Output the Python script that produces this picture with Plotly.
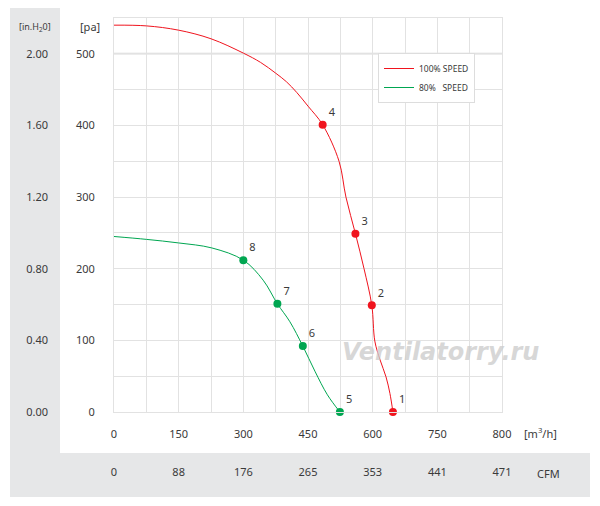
import plotly.graph_objects as go

# ---- data ----
red_curve_x = [0, 75, 150, 225, 300, 340, 375, 400, 424, 450, 484, 522, 538, 560, 580, 598, 605, 617, 631, 640, 647]
red_curve_y = [540, 539, 533, 521, 501, 488, 473, 461, 446, 427, 401, 350, 300, 249, 200, 149, 99, 73, 49, 26, 0]
red_pts_x = [647, 598, 560, 484]
red_pts_y = [0, 149, 249, 401]
red_labels = ["1", "2", "3", "4"]

green_curve_x = [0, 75, 150, 227, 300, 346, 379, 408, 438, 466, 495, 524]
green_curve_y = [245, 241, 236, 229, 212, 184, 151, 126, 92, 57, 24, 0]
green_pts_x = [524, 438, 379, 300]
green_pts_y = [0, 92, 151, 212]
green_labels = ["5", "6", "7", "8"]

x_ticks = [0, 75, 150, 225, 300, 375, 450, 525, 600, 675, 750, 825, 900]
x_labels = ["0", "", "150", "", "300", "", "450", "", "600", "", "750", "", "800"]
cfm_labels = ["0", "", "88", "", "176", "", "265", "", "353", "", "441", "", "471"]
y_ticks = [0, 50, 100, 150, 200, 250, 300, 350, 400, 450, 500, 550]
pa_labels = ["0", "", "100", "", "200", "", "300", "", "400", "", "500", ""]
inh2o_labels = ["0.00", "", "0.40", "", "0.80", "", "1.20", "", "1.60", "", "2.00", ""]

RED = "#f0141e"
GREEN = "#00a651"
GRID = "#e2e2e2"
TXT = "#3a3a3a"
BAND = "#e6e7e8"
FONT = "Noto Sans"

OFF = 8  # page body margin
W, H = 600 - OFF, 506 - OFF
L, R, T, B = 0, 98, 10, 0
PW, PH = W - L - R, H - T - B


def px(x):
    return (x - OFF - L) / PW


def py(y):
    return (H - B - (y - OFF)) / PH


fig = go.Figure()

fig.add_trace(go.Scatter(x=red_curve_x, y=red_curve_y, mode="lines",
                         line=dict(color=RED, width=1, shape="spline", smoothing=1.0),
                         name="100% SPEED"))
fig.add_trace(go.Scatter(x=green_curve_x, y=green_curve_y, mode="lines",
                         line=dict(color=GREEN, width=1, shape="spline", smoothing=1.0),
                         name="80%&nbsp;&nbsp; SPEED"))
fig.add_trace(go.Scatter(x=red_pts_x, y=red_pts_y, mode="markers+text", marker=dict(color=RED, size=8),
                         text=red_labels, textposition="top right", textfont=dict(size=11, color=TXT, family=FONT),
                         showlegend=False, cliponaxis=False))
fig.add_trace(go.Scatter(x=green_pts_x, y=green_pts_y, mode="markers+text", marker=dict(color=GREEN, size=8),
                         text=green_labels, textposition="top right", textfont=dict(size=11, color=TXT, family=FONT),
                         showlegend=False, cliponaxis=False))
# invisible trace to hold the secondary axes
fig.add_trace(go.Scatter(x=[0], y=[0], xaxis="x2", yaxis="y2", mode="markers",
                         marker=dict(opacity=0), showlegend=False, hoverinfo="skip"))

x_dom0 = px(114)
y_dom0 = py(412)

fig.update_layout(
    width=W, height=H,
    margin=dict(l=L, r=R, t=T, b=B, autoexpand=False),
    paper_bgcolor="white", plot_bgcolor="white",
    font=dict(family=FONT, size=11, color=TXT),
    xaxis=dict(domain=[x_dom0, 1], range=[0, 900], tickmode="array", tickvals=x_ticks, ticktext=x_labels,
               showgrid=True, gridcolor=GRID, gridwidth=1, ticks="", showline=True, linecolor=GRID, mirror=True,
               zeroline=False, ticklabelstandoff=12, tickfont=dict(size=11, color=TXT), automargin=False),
    xaxis2=dict(overlaying="x", anchor="free", position=py(458), side="bottom", range=[0, 900],
                tickmode="array", tickvals=x_ticks, ticktext=cfm_labels, showgrid=False, showline=False,
                zeroline=False, ticks="", ticklabelstandoff=6, tickfont=dict(size=11, color=TXT), automargin=False),
    yaxis=dict(domain=[y_dom0, 1], range=[0, 550], tickmode="array", tickvals=y_ticks, ticktext=pa_labels,
               showgrid=True, gridcolor=GRID, gridwidth=1, ticks="", showline=True, linecolor=GRID, mirror=True,
               zeroline=False, ticklabelstandoff=16, tickfont=dict(size=11, color=TXT), automargin=False),
    yaxis2=dict(overlaying="y", anchor="free", position=px(60), side="left", range=[0, 550],
                tickmode="array", tickvals=y_ticks, ticktext=inh2o_labels, showgrid=False, showline=False,
                zeroline=False, ticks="", ticklabelstandoff=12, tickfont=dict(size=11, color=TXT), automargin=False),
    legend=dict(x=px(378), y=py(53), xanchor="left", yanchor="top", bgcolor="white", bordercolor="#dddddd",
                borderwidth=1, font=dict(size=8.5, color=TXT), tracegroupgap=0, itemwidth=30),
    shapes=[
        dict(type="rect", xref="paper", yref="paper", x0=px(10), x1=px(60), y0=py(497), y1=py(8),
             fillcolor=BAND, line=dict(width=0), layer="below"),
        dict(type="rect", xref="paper", yref="paper", x0=px(10), x1=px(590), y0=py(497), y1=py(453),
             fillcolor=BAND, line=dict(width=0), layer="below"),
        dict(type="line", xref="x", yref="y", x0=0, x1=900, y0=500, y1=500,
             line=dict(color="#ececec", width=2.5), layer="below"),
    ],
    annotations=[
        dict(text="[pa]", xref="paper", yref="paper", x=px(90), y=py(27), xanchor="center", yanchor="middle",
             showarrow=False, font=dict(size=11, color=TXT)),
        dict(text="[in.H<sub>2</sub>0]", xref="paper", yref="paper", x=px(35), y=py(27), xanchor="center",
             yanchor="middle", showarrow=False, font=dict(size=9, color=TXT)),
        dict(text="[m<sup>3</sup>/h]", xref="paper", yref="paper", x=px(540), y=py(433), xanchor="center",
             yanchor="middle", showarrow=False, font=dict(size=11, color=TXT)),
        dict(text="CFM", xref="paper", yref="paper", x=px(548), y=py(473), xanchor="center", yanchor="middle",
             showarrow=False, font=dict(size=11, color=TXT)),
        dict(text="<b><i>Ventilatorry.ru</i></b>", xref="paper", yref="paper", x=px(440), y=py(352),
             xanchor="center", yanchor="middle",
             showarrow=False, font=dict(size=24, color="rgba(205,205,205,0.8)", family="DejaVu Sans")),
    ],
)

fig.write_html("out.html")
